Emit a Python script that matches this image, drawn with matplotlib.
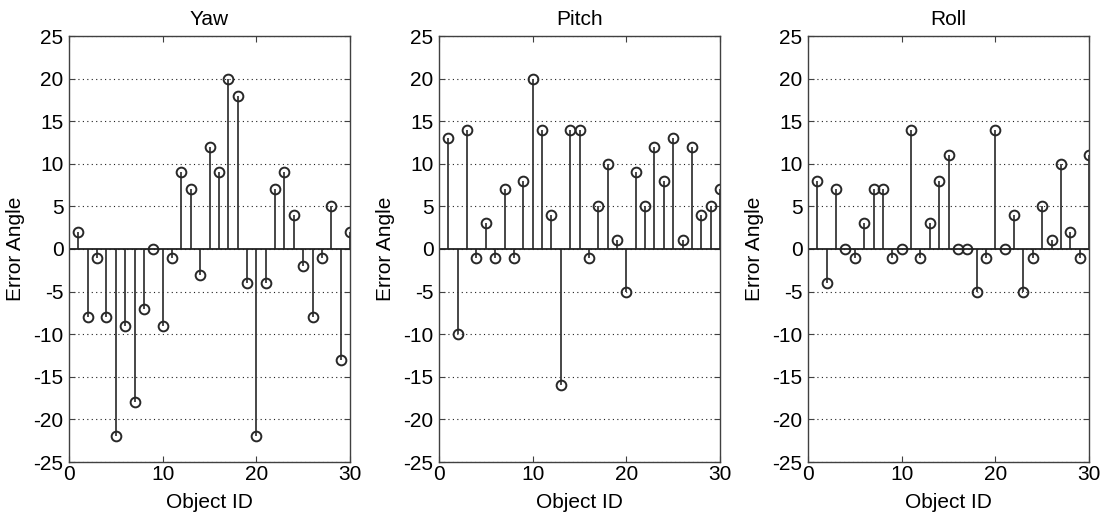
import numpy as np
import matplotlib
matplotlib.use("Agg")
import matplotlib.pyplot as plt

plt.rcParams['font.family'] = ['Liberation Sans', 'DejaVu Sans']
plt.rcParams['axes.unicode_minus'] = False

object_id = np.arange(1, 31)
yaw = [2, -8, -1, -8, -22, -9, -18, -7, 0, -9, -1, 9, 7, -3, 12,
       9, 20, 18, -4, -22, -4, 7, 9, 4, -2, -8, -1, 5, -13, 2]
pitch = [13, -10, 14, -1, 3, -1, 7, -1, 8, 20, 14, 4, -16, 14, 14,
         -1, 5, 10, 1, -5, 9, 5, 12, 8, 13, 1, 12, 4, 5, 7]
roll = [8, -4, 7, 0, -1, 3, 7, 7, -1, 0, 14, -1, 3, 8, 11,
        0, 0, -5, -1, 14, 0, 4, -5, -1, 5, 1, 10, 2, -1, 11]

titles = ["Yaw", "Pitch", "Roll"]
series = [yaw, pitch, roll]
lefts = [69, 439, 808]

W, H = 1107, 516
fig = plt.figure(figsize=(W / 100, H / 100), dpi=100)

for title, vals, lx in zip(titles, series, lefts):
    ax = fig.add_axes([lx / W, 1 - 462 / H, 281 / W, 426 / H])
    ml, sl, bl = ax.stem(object_id, vals, basefmt='k-')
    plt.setp(sl, color='#383838', linewidth=1.3)
    plt.setp(ml, marker='o', markersize=7, markerfacecolor='none',
             markeredgecolor='#282828', markeredgewidth=1.4)
    plt.setp(bl, color='#202020', linewidth=1.3)
    bl.set_xdata([0, 30])
    ax.set_xlim(0, 30)
    ax.set_ylim(-25, 25)
    ax.set_xticks([0, 10, 20, 30])
    ax.set_yticks(np.arange(-25, 26, 5))
    ax.yaxis.grid(True, linestyle=(0, (1, 3)), color='#202020', linewidth=0.8)
    ax.tick_params(direction='in', top=True, right=True, labelsize=15,
                   length=4, width=0.8, color='#404040')
    ax.tick_params(axis='x', pad=2)
    ax.tick_params(axis='y', pad=4)
    for sp in ax.spines.values():
        sp.set_color('#404040')
        sp.set_linewidth(1.0)
    ax.set_title(title, fontsize=15, pad=8)
    ax.set_xlabel("Object ID", fontsize=15, labelpad=7)
    ax.set_ylabel("Error Angle", fontsize=15, labelpad=6)

fig.savefig("out.png", dpi=100)
